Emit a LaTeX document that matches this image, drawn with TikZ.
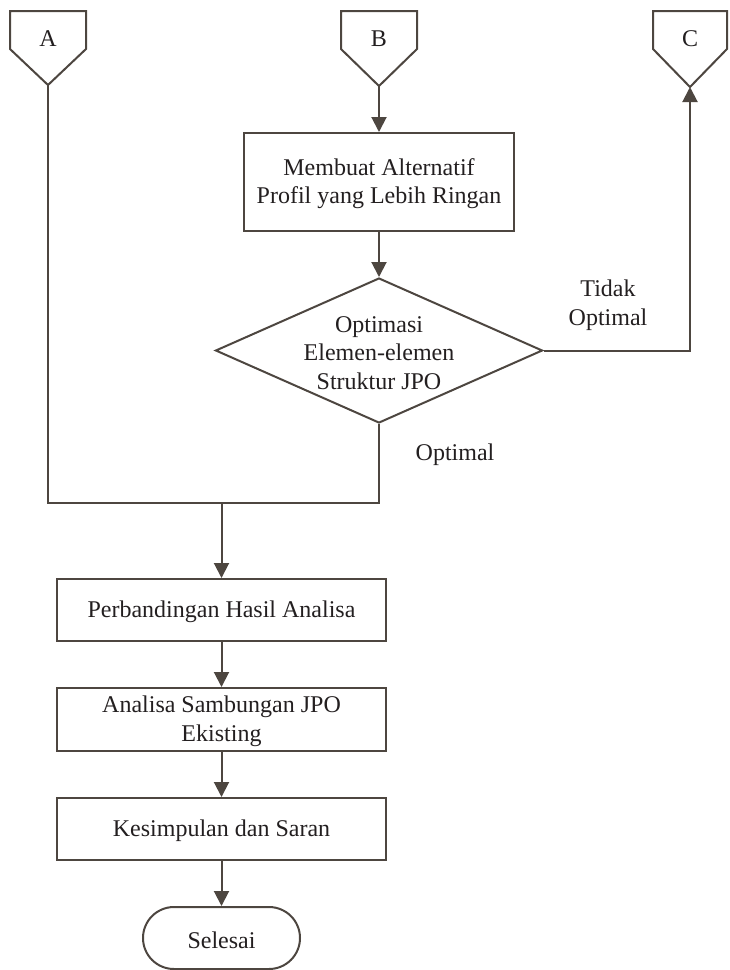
\documentclass[tikz,border=0pt]{standalone}
\usepackage{fontspec}
\setmainfont{Liberation Serif}
\usetikzlibrary{arrows.meta,shapes.geometric}
\definecolor{ln}{RGB}{77,70,64}
\definecolor{tx}{RGB}{35,31,32}
\begin{document}
\begin{tikzpicture}[x=1pt,y=-1pt,
  every node/.style={text=tx,font=\fontsize{24}{28.5}\selectfont},
  line/.style={draw=ln,line width=2pt},
  arr/.style={line,-{Triangle[length=15pt,width=15pt]}},
  box/.style={line,rectangle,inner sep=0pt,align=center},
  dia/.style={line,diamond,inner sep=0pt,minimum width=327pt,minimum height=145pt},
  term/.style={line,rectangle,rounded corners=31pt,inner sep=0pt,minimum width=157pt,minimum height=62pt}
]
\useasboundingbox (0,0) rectangle (729,970);
% off-page connectors
\node (A) at (48,39) {A};
\draw[line,line join=miter] (10,11) -- (86,11) -- (86,49) -- (48,85) -- (10,49) -- cycle;
\coordinate (Atip) at (48,85);
\node (B) at (379,39) {B};
\draw[line,line join=miter] (341,11) -- (417,11) -- (417,49) -- (379,86) -- (341,49) -- cycle;
\coordinate (Btip) at (379,86);
\node (C) at (690,39) {C};
\draw[line,line join=miter] (653,11) -- (727,11) -- (727,49) -- (690,87) -- (653,49) -- cycle;
\coordinate (Ctip) at (690,87);
% process
\node[box,minimum width=270pt,minimum height=98pt] (M1) at (379,182) {};
\node[align=center] (M1t) at (379,183.5) {Membuat Alternatif\\Profil yang Lebih Ringan};
\node[dia] (D) at (379,350.5) {};
\node[align=center] (Dt) at (379,353) {Optimasi\\Elemen-elemen\\Struktur JPO};
\node (opt) at (455,455) {Optimal};
\node[align=center] (topt) at (608,305) {Tidak\\Optimal};
\coordinate (M) at (221.5,503);
\node[box,minimum width=329pt,minimum height=62pt] (P) at (221.5,610) {};
\node (Pt) at (221.5,612) {Perbandingan Hasil Analisa};
\node[box,minimum width=329pt,minimum height=63pt] (S) at (221.5,719.5) {};
\node[align=center] (St) at (221.5,721.5) {Analisa Sambungan JPO\\Ekisting};
\node[box,minimum width=329pt,minimum height=62pt] (K) at (221.5,829) {};
\node (Kt) at (221.5,831) {Kesimpulan dan Saran};
\node[term] (E) at (221.5,938) {};
\node (Et) at (221.5,940) {Selesai};
% connectors
\draw[arr] (Btip) -- (M1.north);
\draw[arr] (M1.south) -- (D.north);
\draw[arr] (D.east) -| (Ctip);
\draw[line] (Atip) |- (M);
\draw[line] (D.south) |- (M);
\draw[arr] (M) -- (P.north);
\draw[arr] (P.south) -- (S.north);
\draw[arr] (S.south) -- (K.north);
\draw[arr] (K.south) -- (E.north);
\end{tikzpicture}
\end{document}
